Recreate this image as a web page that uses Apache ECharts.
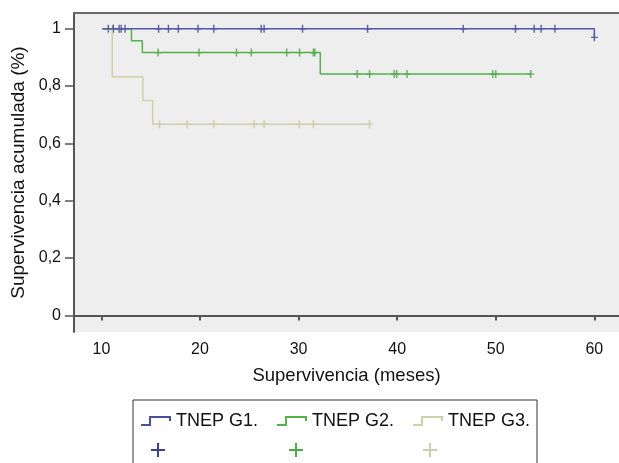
<!DOCTYPE html>
<html>
<head>
<meta charset="utf-8">
<script src="https://cdn.jsdelivr.net/npm/echarts@6/dist/echarts.min.js"></script>
<style>
  html, body { margin: 0; padding: 0; background: #fff; }
  #main { width: 619px; height: 463px; }
</style>
</head>
<body>
<div id="main"></div>
<script>
// ejes
var xTicks = [10, 20, 30, 40, 50, 60];
var yTicks = [0, 0.2, 0.4, 0.6, 0.8, 1];

// curvas de Kaplan-Meier (tiempo del escalón, supervivencia tras el escalón)
var g1Time = [10.1, 60.0];
var g1Surv = [1, 0.97];
var g2Time = [10.1, 13.05, 14.15, 32.2, 53.55];
var g2Surv = [1, 0.958, 0.917, 0.842, 0.842];
var g3Time = [10.1, 11.1, 14.2, 15.2, 37.2];
var g3Surv = [1, 0.833, 0.75, 0.667, 0.667];

// casos censurados (meses)
var g1Cens = [10.7, 11.2, 11.8, 12.0, 12.4, 15.8, 16.8, 17.8, 19.8, 21.4, 26.2, 26.5,
              30.4, 37.0, 46.7, 52.0, 53.9, 54.6, 56.0, 60.0];
var g2Cens = [11.2, 15.75, 19.9, 23.7, 25.2, 28.8, 30.1, 31.5, 31.65, 35.95, 37.2,
              39.7, 39.95, 41.0, 49.7, 50.0, 53.55];
var g3Cens = [15.9, 18.7, 21.4, 25.5, 26.5, 30.05, 31.5, 37.2];

var names = ['TNEP G1.', 'TNEP G2.', 'TNEP G3.'];

function curve(t, s) {
    return t.map(function (v, i) { return [v, s[i]]; });
}
// valor de la curva en el tiempo de censura
function cens(c, t, s) {
    return c.map(function (v) {
        var y = s[0];
        for (var i = 0; i < t.length; i++) { if (t[i] <= v) y = s[i]; }
        return [v, y];
    });
}

var plusPath = 'path://M2,0 L3,0 L3,2.5 L5,2.5 L5,3.5 L3,3.5 L3,6 L2,6 L2,3.5 L0,3.5 L0,2.5 L2,2.5 Z';
var stepIcon = 'path://M0,8 L8,8 L8,0 L30,0 L30,5 L28,5 L28,2 L10,2 L10,10 L0,10 Z';
var font = 'Liberation Sans';

var myChart = echarts.init(document.getElementById('main'));
myChart.setOption({
    animation: false,
    textStyle: { fontFamily: font },
    grid: {
        left: 74, top: 13, right: 0, bottom: 131,
        show: true, backgroundColor: '#eeeeee', borderWidth: 0
    },
    legend: {
        data: names,
        left: 141, top: 412, padding: 0,
        itemWidth: 30, itemHeight: 10, itemGap: 19,
        icon: stepIcon,
        textStyle: { fontSize: 18, color: '#111', fontFamily: font }
    },
    xAxis: [{
        type: 'value', min: 7.22, max: 62.5,
        name: 'Supervivencia (meses)', nameLocation: 'middle', nameGap: 34,
        nameTextStyle: { fontSize: 18.5, color: '#111' },
        axisLine: { lineStyle: { color: '#555', width: 2 } },
        axisTick: { length: 5, lineStyle: { color: '#555', width: 2 }, customValues: xTicks },
        axisLabel: { fontSize: 16, color: '#111', margin: 10, customValues: xTicks },
        splitLine: { show: false }
    }, {
        type: 'value', min: 7.22, max: 62.5, position: 'top',
        axisLine: { show: true, lineStyle: { color: '#6a6a6a', width: 2 } },
        axisTick: { show: false }, axisLabel: { show: false }, splitLine: { show: false }
    }],
    yAxis: {
        type: 'value', min: -0.058, max: 1.055,
        name: 'Supervivencia acumulada (%)', nameLocation: 'middle', nameGap: 43,
        nameTextStyle: { fontSize: 19, color: '#111' },
        axisLine: { show: true, lineStyle: { color: '#555', width: 2 } },
        axisTick: { show: true, length: 9, lineStyle: { color: '#555', width: 1.5 }, customValues: yTicks },
        axisLabel: {
            fontSize: 16, color: '#111', margin: 13, customValues: yTicks,
            formatter: function (v) { return String(v).replace('.', ','); }
        },
        splitLine: { show: false }
    },
    graphic: [
        { type: 'rect', shape: { x: 133, y: 400, width: 404, height: 80 },
          style: { fill: 'none', stroke: '#333', lineWidth: 1 } },
        { type: 'group', x: 158, y: 450, children: [
            { type: 'rect', shape: { x: -7, y: -1, width: 14, height: 2 }, style: { fill: '#3d3f88' } },
            { type: 'rect', shape: { x: -1, y: -7, width: 2, height: 14 }, style: { fill: '#3d3f88' } }] },
        { type: 'group', x: 296, y: 450, children: [
            { type: 'rect', shape: { x: -7, y: -1, width: 14, height: 2 }, style: { fill: '#4caa48' } },
            { type: 'rect', shape: { x: -1, y: -7, width: 2, height: 14 }, style: { fill: '#4caa48' } }] },
        { type: 'group', x: 430, y: 450, children: [
            { type: 'rect', shape: { x: -7, y: -1, width: 14, height: 2 }, style: { fill: '#cdcdb0' } },
            { type: 'rect', shape: { x: -1, y: -7, width: 2, height: 14 }, style: { fill: '#cdcdb0' } }] }
    ],
    series: [
        { name: names[2], type: 'line', step: 'end', symbol: 'none', color: '#cfcfa8',
          lineStyle: { width: 1.5, color: '#cfcfa8' }, data: curve(g3Time, g3Surv) },
        { name: names[2] + ' c', type: 'scatter', symbol: plusPath, symbolSize: [7, 8],
          itemStyle: { color: '#c4c49a' }, data: cens(g3Cens, g3Time, g3Surv) },
        { name: names[1], type: 'line', step: 'end', symbol: 'none', color: '#55b04c',
          lineStyle: { width: 1.5, color: '#55b04c' }, data: curve(g2Time, g2Surv) },
        { name: names[1] + ' c', type: 'scatter', symbol: plusPath, symbolSize: [7, 8],
          itemStyle: { color: '#3f9c3f' }, data: cens(g2Cens, g2Time, g2Surv) },
        { name: names[0], type: 'line', step: 'end', symbol: 'none', color: '#4a50a0',
          lineStyle: { width: 1.5, color: '#5159aa' }, data: curve(g1Time, g1Surv) },
        { name: names[0] + ' c', type: 'scatter', symbol: plusPath, symbolSize: [7, 8],
          itemStyle: { color: '#34398a' }, data: cens(g1Cens, g1Time, g1Surv) }
    ]
});
</script>
</body>
</html>
